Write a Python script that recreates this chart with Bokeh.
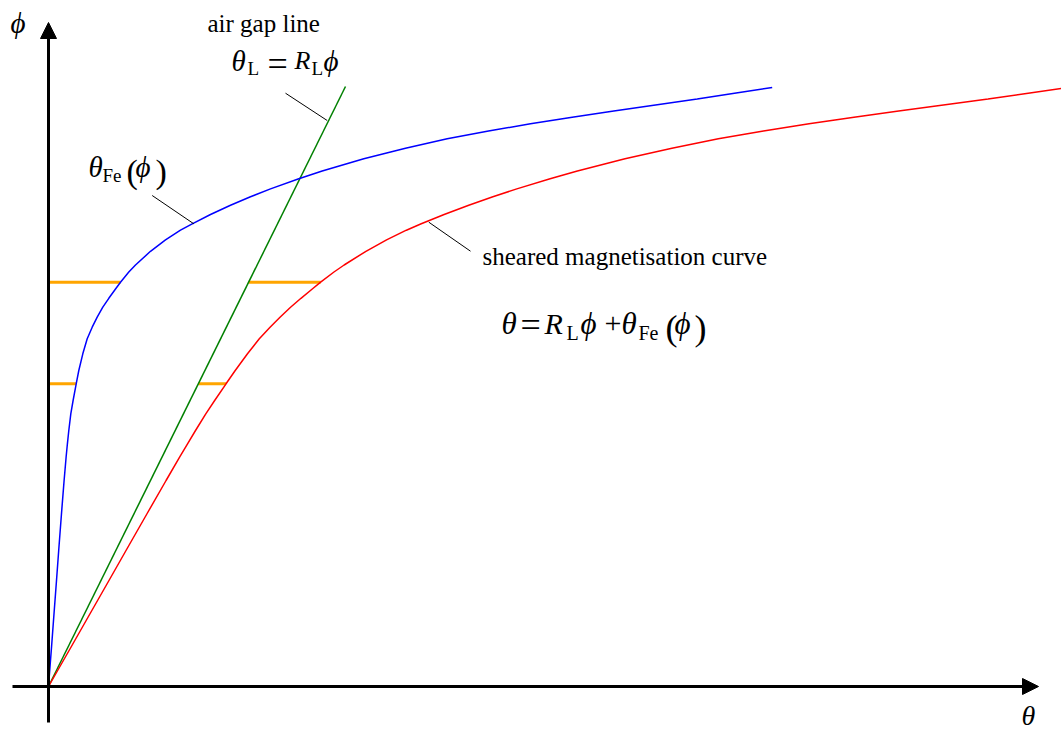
from bokeh.plotting import figure
from bokeh.models import Range1d, Arrow, NormalHead
from bokeh.core.properties import value
from bokeh.embed import file_html
from bokeh.resources import INLINE

# Iron magnetisation curve: flux phi vs. iron mmf theta_Fe (arbitrary units)
phi = [0, 21, 39, 66, 106, 136, 173, 206, 229.3, 242.7, 256, 272.7, 286,
       302.7, 316, 332.7, 347.7, 359.3, 369.3, 379.3, 388.2, 397.5, 404.3,
       414.5, 421.5, 435.2, 446.6, 456.3, 462.7, 472, 481.3, 489.7, 497.6,
       507.7, 515.5, 527.7, 538.2, 547.7, 555.5, 562.7, 569.3, 575.5, 581.6,
       587.5, 593.3, 599]
theta_fe = [0, 1.6, 3, 5, 8, 10.2, 13, 15.6, 17.6, 18.9, 20.3, 22.3, 24.6,
            27.7, 30.3, 34.3, 38.7, 43.7, 48.7, 54.3, 60.3, 67, 72,
            80.3, 87, 102, 117, 132, 143.7, 162, 182, 202, 222,
            250.3, 273.7, 315.3, 357, 398.7, 440, 482, 523.7, 565.3, 607,
            648.7, 686, 723.7]

# Air gap reluctance and extent of the air gap line
R_L = 0.495
phi_gap = [0, 600]

# Flux levels at which the horizontal construction segments are drawn
phi_marks = [302.7, 404.3]

# Sheared curve: theta = R_L*phi + theta_Fe(phi)
theta_gap = [R_L * f for f in phi_gap]
theta_sheared = [R_L * f + t for f, t in zip(phi, theta_fe)]

p = figure(width=1061, height=731, output_backend="svg", toolbar_location=None,
           x_range=Range1d(-48, 1013), y_range=Range1d(-45, 686),
           min_border=0, outline_line_color=None)
p.axis.visible = False
p.grid.visible = False
p.background_fill_color = "white"
p.border_fill_color = "white"

# Axes with arrow heads
p.add_layout(Arrow(end=NormalHead(size=16, fill_color="black", line_color="black", line_width=1),
                   x_start=0, y_start=-36, x_end=0, y_end=664, line_width=3, line_color="black"))
p.add_layout(Arrow(end=NormalHead(size=16, fill_color="black", line_color="black", line_width=1),
                   x_start=-36, y_start=0, x_end=990, y_end=0, line_width=3, line_color="black"))

# Construction segments: theta_Fe measured from the axis and from the air gap line
for f in phi_marks:
    t = theta_fe[phi.index(f)]
    p.segment(x0=[0, R_L * f], y0=[f, f], x1=[t, R_L * f + t], y1=[f, f],
              line_color="#FFA500", line_width=3)

p.line(theta_gap, phi_gap, line_color="#008000", line_width=1.5)
p.line(theta_fe, phi, line_color="#0000FF", line_width=1.5)
p.line(theta_sheared, phi, line_color="#FF0000", line_width=1.5)

# Leader lines from labels to curves
p.segment(x0=[237, 103.7, 380.3], y0=[593.3, 491, 464.3],
          x1=[278.7, 145.3, 422], y1=[566, 462.7, 435.3],
          line_color="black", line_width=1)

FONT = value("Liberation Serif")


def put(pieces, dy=0, baseline="alphabetic"):
    for x, y, s, style, size in pieces:
        p.text(x=[x], y=[y + dy], text=[s], text_font=FONT, text_font_style=style,
               text_font_size=size, text_baseline=baseline, text_align="left",
               text_color="black")


I, N = "italic", "normal"

# axis label and plain captions
put([
    (-38, 656, "ϕ", I, "29px"),
], dy=8)
put([
    (159, 657, "air gap line", N, "25px"),
    (434, 424, "sheared magnetisation curve", N, "25px"),
], dy=6)

# formulas
put([
    # theta_L = R_L phi
    (183, 617, "θ", I, "29px"),
    (199, 609, "L", N, "19px"),
    (219, 614, "=", N, "36px"),
    (246, 617, "R", I, "26px"),
    (263, 609, "L", N, "19px"),
    (275, 617, "ϕ", I, "29px"),
    # theta_Fe(phi)
    (40, 511, "θ", I, "29px"),
    (54, 502, "Fe", N, "19px"),
    (78, 506, "(", N, "34px"),
    (87, 511, "ϕ", I, "29px"),
    (107, 506, ")", N, "34px"),
    # theta = R_L phi + theta_Fe(phi)
    (453, 354, "θ", I, "31px"),
    (472, 352.3, "=", N, "36px"),
    (496, 354, "R", I, "30px"),
    (518, 345, "L", N, "20px"),
    (532, 354, "ϕ", I, "31px"),
    (556, 354, "+", N, "30px"),
    (573, 354, "θ", I, "31px"),
    (590, 345, "Fe", N, "20px"),
    (617, 350, "(", N, "36px"),
    (626, 354, "ϕ", I, "31px"),
    (646, 350, ")", N, "36px"),
], dy=9)

# theta axis label sits against the bottom edge
put([(973, -44, "θ", I, "28px")], baseline="bottom")

open("out.html", "w").write(file_html(p, INLINE))
